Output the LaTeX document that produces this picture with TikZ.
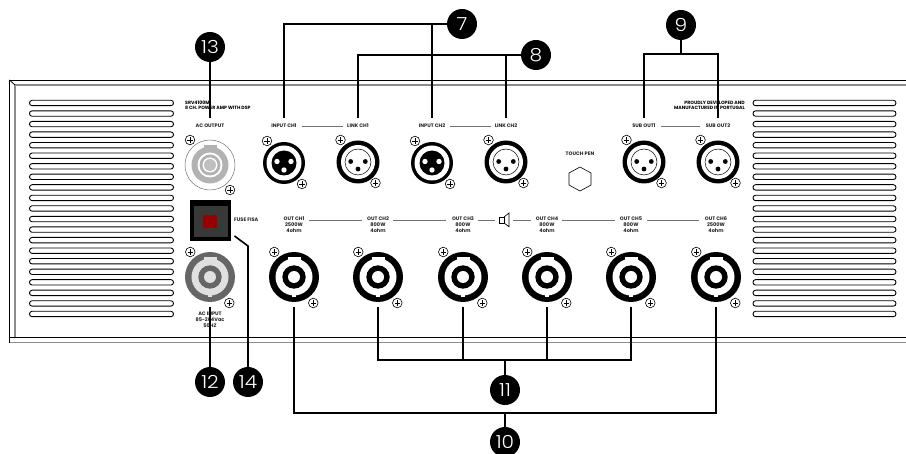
\documentclass[tikz,border=0pt]{standalone}
\usepackage{fontspec}
\setmainfont{Poppins}
\newfontfamily\badgefont[FakeStretch=1.12]{Poppins Light}
\definecolor{panelgray}{gray}{0.55}
\definecolor{fusedark}{gray}{0.22}
\definecolor{fusered}{RGB}{150,0,0}
\tikzset{
 x=1pt,y=-1pt,
 wire/.style={line width=1.6pt,black,line join=miter},
 thin rule/.style={line width=0.8pt,black!55},
 badge/.style={circle,fill=black,minimum size=30pt,inner sep=0pt,text=white,font=\badgefont\fontsize{18}{18}\selectfont},
 lbl/.style={inner sep=0pt,align=center,font=\bfseries\fontsize{5}{6}\selectfont,text=black!85},
 ttl/.style={inner sep=0pt,font=\bfseries\fontsize{4.65}{5.4}\selectfont,text=black},
}
\newcommand{\screw}[2]{%
 \draw[line width=.6pt,fill=white] (#1,#2) circle (4.8);
 \draw[line width=.9pt] (#1-2.8,#2) -- (#1+2.8,#2) (#1,#2-2.8) -- (#1,#2+2.8);}
\newcommand{\xlrblack}[3]{%
 \coordinate (#1) at (#2,#3);
 \fill[black] (#2,#3) circle (21);
 \fill[white] (#2,#3) circle (17.5);
 \fill[black] (#2,#3) circle (12.5);
 \fill[white] (#2-7,#3-1.5) circle (2.7) (#2+7,#3-1.5) circle (2.7) (#2,#3+7) circle (2.7);
 \screw{#2-17}{#3-22}\screw{#2+18}{#3+21}}
\newcommand{\xlrwhite}[3]{%
 \coordinate (#1) at (#2,#3);
 \fill[black] (#2,#3) circle (21.5);
 \fill[white] (#2,#3) circle (17);
 \draw[line width=.5pt] (#2,#3) circle (13);
 \fill[black] (#2-7.3,#3-.5) circle (2.4) (#2+7.3,#3-.5) circle (2.4) (#2,#3+7) circle (2.4);
 \screw{#2-17.5}{#3-22}\screw{#2+17.5}{#3+21}}
% speakon: name, x, y, body colour, band colour, centre colour
\newcommand{\speakon}[6]{%
 \coordinate (#1) at (#2,#3);
 \fill[#4] (#2,#3) circle (25);
 \fill[#5] (#2,#3) circle (18.5);
 \fill[#5] (#2-6.5,#3-19.6) rectangle (#2+6.5,#3-15);
 \fill[#5] (#2-1.8,#3+15) rectangle (#2+1.8,#3+19.8);
 \fill[#4] (#2,#3) circle (11.7);
 \fill[#6] (#2,#3) circle (6);
 \screw{#2-19.7}{#3-25}\screw{#2+19.3}{#3+26}}
\begin{document}
\begin{tikzpicture}
\useasboundingbox (0,0) rectangle (906,454);
\fill[white] (0,0) rectangle (906,454);
% chassis
\draw[line width=1.3pt,panelgray] (906,85) -- (15,85) -- (15,337);
\draw[line width=1.3pt,panelgray] (9.5,342.7) -- (906,342.7);
\draw[line width=.9pt,black] (906,80) -- (9.5,80) -- (9.5,342.7);
\draw[line width=.9pt,black] (9.5,337.5) -- (906,337.5);
\draw[line width=.8pt,black] (9.5,80) -- (15,85);
% vents
\foreach \i in {0,...,20}{
 \draw[line width=.9pt,rounded corners=2.6pt] (29.5,103+10.55*\i-2.7) rectangle (173.5,103+10.55*\i+2.7);
 \draw[line width=.9pt,rounded corners=2.6pt] (753,103+10.55*\i-2.7) rectangle (896,103+10.55*\i+2.7);
}
% titles
\node[ttl,anchor=north west,align=left] (title) at (185,100.5) {SRV4100M\\8 CH. POWER AMP WITH DSP};
\node[ttl,anchor=north east,align=right] (made) at (745,100.5) {PROUDLY DEVELOPED AND\\MANUFACTURED IN PORTUGAL};
% AC output
\coordinate (acout) at (210,165);
\draw[line width=.5pt,black!55] (acout) circle (25);
\fill[black!30] (acout) circle (18.5);
\fill[black!30] (203.5,145) rectangle (216.5,150);
\fill[white] (acout) circle (12.5);
\fill[black!30] (acout) circle (10.5);
\fill[white] (acout) circle (7.5);
\fill[black!25] (acout) circle (6);
\screw{190}{140}\screw{230}{190}
% AC input
\speakon{acin}{210}{277}{black!60}{black!12}{black!12}
% XLR
\xlrblack{in1}{284}{163}
\xlrwhite{li1}{358}{162}
\xlrblack{in2}{432}{163}
\xlrwhite{li2}{506}{162}
\xlrwhite{su1}{644}{162}
\xlrwhite{su2}{718}{162}
% outputs
\speakon{o1}{294}{277}{black}{white}{white}
\speakon{o2}{378}{277}{black}{white}{white}
\speakon{o3}{463}{277}{black}{white}{white}
\speakon{o4}{547}{277}{black}{white}{white}
\speakon{o5}{631}{277}{black}{white}{white}
\speakon{o6}{716}{277}{black}{white}{white}
% fuse
\fill[black] (190,200) rectangle (231,241);
\fill[fusedark] (193.5,205.7) rectangle (227.5,236.7);
\fill[fusered] (203,215) rectangle (217,228);
\node[lbl,anchor=west] (fuselbl) at (234,220) {FUSE FISA};
% touch pen
\node[lbl] (touchlbl) at (580,154) {TOUCH PEN};
\draw[line width=.6pt] (580,167) -- (591,173) -- (591,185) -- (580,191) -- (569,185) -- (569,173) -- cycle;
% top labels
\node[lbl] (l1) at (284,126) {INPUT CH1};
\node[lbl] (l2) at (358,126) {LINK CH1};
\node[lbl] (l3) at (432,126) {INPUT CH2};
\node[lbl] (l4) at (506,126) {LINK CH2};
\node[lbl] (l5) at (644,126) {SUB OUT1};
\node[lbl] (l6) at (718,126) {SUB OUT2};
\node[lbl] (l7) at (210,126) {AC OUTPUT};
\draw[thin rule] (302,126) -- (343,126) (450,126) -- (491,126) (661,126) -- (700,126);
% out labels
\node[lbl,anchor=north] (p1) at (294,217) {OUT CH1\\2500W\\4ohm};
\node[lbl,anchor=north] (p2) at (378,217) {OUT CH2\\800W\\4ohm};
\node[lbl,anchor=north] (p3) at (463,217) {OUT CH3\\800W\\4ohm};
\node[lbl,anchor=north] (p4) at (547,217) {OUT CH4\\800W\\4ohm};
\node[lbl,anchor=north] (p5) at (631,217) {OUT CH5\\800W\\4ohm};
\node[lbl,anchor=north] (p6) at (716,217) {OUT CH6\\2500W\\4ohm};
\node[lbl,anchor=north] (p7) at (210,312) {AC INPUT\\85-264Vac\\50HZ};
\draw[thin rule] (309,220) -- (362,220) (393,220) -- (446,220) (478,220) -- (495,220)
 (513,220) -- (531,220) (562,220) -- (615,220) (647,220) -- (699,220);
% speaker icon
\draw[line width=.7pt] (499.5,217) rectangle (504,223);
\draw[line width=.7pt] (504,217) -- (509,213) -- (509,226.7) -- (504,223);
% badges
\node[badge] (b13) at (210,47) {13};
\node[badge] (b7) at (462,24) {7};
\node[badge] (b8) at (536,55) {8};
\node[badge] (b9) at (681,25) {9};
\node[badge] (b12) at (210,382) {12};
\node[badge] (b14) at (248,382) {14};
\node[badge] (b11) at (505,390) {11};
\node[badge] (b10) at (505,442) {10};
% wire ends
\coordinate (w13) at (210,118);
\coordinate (w1) at (284,118);
\coordinate (w2) at (358,118);
\coordinate (w3) at (432,118);
\coordinate (w4) at (506,118);
\coordinate (w5) at (644,118);
\coordinate (w6) at (718,118);
\coordinate (s12) at (210,307);
\coordinate (s1) at (294,307);
\coordinate (s2) at (378,307);
\coordinate (s3) at (463,307);
\coordinate (s4) at (547,307);
\coordinate (s5) at (631,307);
\coordinate (s6) at (716,307);
\coordinate (f14) at (234.5,236);
\coordinate (k14) at (248,246);
\coordinate (j9) at (681,54);
\coordinate (j11) at (505,360);
\coordinate (j10) at (505,413);
% wires
\draw[wire] (b13) -- (w13);
\draw[wire] (b7) -| (w1);
\draw[wire] (b7) -| (w3);
\draw[wire] (b8) -| (w2);
\draw[wire] (b8) -| (w4);
\draw[wire] (b9) -- (j9);
\draw[wire] (w5) |- (j9) -| (w6);
\draw[wire] (s12) -- (b12);
\draw[wire] (f14) -- (k14) -- (b14);
\draw[wire] (s2) |- (j11) -| (s5);
\draw[wire] (s3) |- (j11);
\draw[wire] (s4) |- (j11);
\draw[wire] (j11) -- (b11);
\draw[wire] (s1) |- (j10) -| (s6);
\draw[wire] (j10) -- (b10);
\end{tikzpicture}
\end{document}
